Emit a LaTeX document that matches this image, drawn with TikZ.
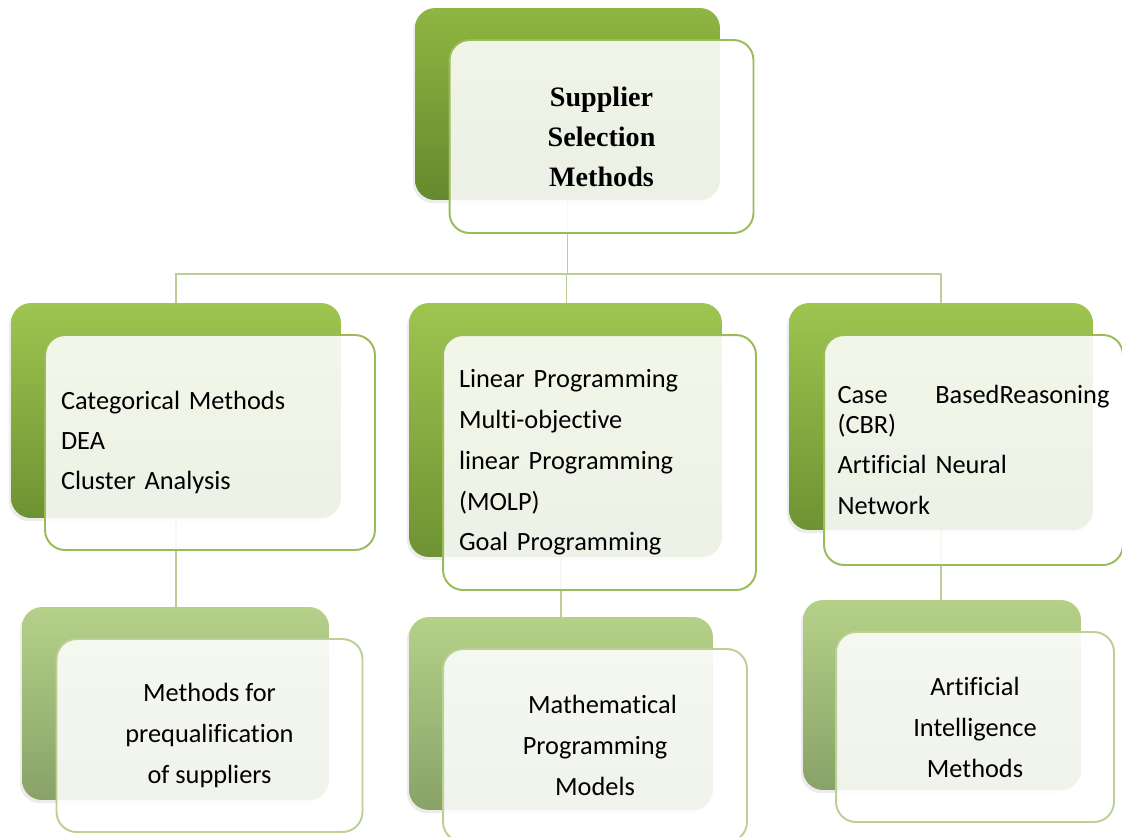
\documentclass[tikz,border=0pt]{standalone}
\usepackage{fontspec}
\setmainfont{Carlito}[Ligatures=NoCommon]
\newfontfamily\titlefont{Liberation Serif}
\usepackage{tikz}
\usetikzlibrary{shadows}
\definecolor{grnline}{RGB}{155,187,89}
\definecolor{grnpale}{RGB}{186,208,148}
\definecolor{grnlink}{RGB}{188,206,150}
\definecolor{topgtop}{RGB}{143,181,66}
\definecolor{topgbot}{RGB}{101,137,45}
\definecolor{midgtop}{RGB}{158,197,80}
\definecolor{midgbot}{RGB}{110,146,50}
\definecolor{lowgtop}{RGB}{181,209,136}
\definecolor{lowgbot}{RGB}{136,162,104}
\pgfdeclarelayer{background}
\pgfsetlayers{background,main}
\tikzset{
  backbox/.style={rectangle, rounded corners=0.4cm, draw=none,
    top color=midgtop, bottom color=midgbot,
    drop shadow={shadow xshift=-1.2pt, shadow yshift=-1.8pt, opacity=0.15}},
  topback/.style={backbox, top color=topgtop, bottom color=topgbot},
  lowback/.style={backbox, top color=lowgtop, bottom color=lowgbot},
  frontbox/.style={rectangle, rounded corners=0.4cm, draw=grnline,
    line width=1.1pt, fill=white, fill opacity=0.88, text opacity=1,
    inner sep=0pt, font=\fontsize{15}{23}\selectfont},
  lowfront/.style={frontbox, draw=grnpale, align=center},
  link/.style={draw=grnlink, line width=1pt}
}

\begin{document}
\begin{tikzpicture}[x=0.02cm, y=-0.02cm]
  \useasboundingbox (0,0) rectangle (1122,836);

  % --- TOP BLOCK ---
  \node[topback, minimum width=6.1cm, minimum height=3.84cm] (topb) at (567.5,104) {};
  \node[frontbox, minimum width=6.08cm, minimum height=3.86cm, align=center,
    font=\titlefont\bfseries\fontsize{16}{22.8}\selectfont] (topf) at (601.5,136.5)
    {Supplier\\Selection\\Methods};

  % --- MIDDLE ROW ---
  \node[backbox, minimum width=6.6cm, minimum height=4.3cm] (catb) at (176,410.5) {};
  \node[frontbox, minimum width=6.6cm, minimum height=4.3cm, text width=5.96cm,
    align=left] (catf) at (210,442.5)
    {Categorical Methods\\DEA\\Cluster Analysis};

  \node[backbox, minimum width=6.26cm, minimum height=5.08cm] (mathb) at (565.5,430) {};
  \node[frontbox, minimum width=6.26cm, minimum height=5.1cm, text width=5.62cm,
    align=left, font=\fontsize{15}{23.2}\selectfont] (mathf) at (599.5,462.5)
    {Linear Programming\\Multi-objective\\linear Programming\\(MOLP)\\Goal Programming};

  \node[backbox, minimum width=6.08cm, minimum height=4.54cm] (aib) at (941,416.5) {};
  \node[frontbox, minimum width=5.98cm, minimum height=4.6cm, text width=5.44cm,
    align=left, font=\fontsize{15}{17}\selectfont] (aif) at (973.5,450)
    {Case\hskip 0pt plus 1fill BasedReasoning\\(CBR)\\[6pt]Artificial Neural\\[6.5pt]Network};

  % --- BOTTOM ROW ---
  \node[lowback, minimum width=6.14cm, minimum height=3.86cm] (preb) at (175.5,703.5) {};
  \node[lowfront, minimum width=6.12cm, minimum height=3.86cm,
    font=\fontsize{15}{23.3}\selectfont] (pref) at (209.5,735.5)
    {Methods for\\prequalification\\of suppliers};

  \node[lowback, minimum width=6.08cm, minimum height=3.86cm] (progb) at (561,713.5) {};
  \node[lowfront, minimum width=6.08cm, minimum height=3.86cm,
    font=\fontsize{15}{23.3}\selectfont] (progf) at (595,745.5)
    {\hspace*{0.3cm}Mathematical\\Programming\\Models};

  \node[lowback, minimum width=5.56cm, minimum height=3.8cm] (aiintb) at (942,695) {};
  \node[lowfront, minimum width=5.56cm, minimum height=3.8cm,
    font=\fontsize{15}{23.3}\selectfont] (aiintf) at (975,727)
    {Artificial\\Intelligence\\Methods};

  % --- CONNECTORS ---
  \coordinate (hub) at (566.5,274);
  \begin{pgfonlayer}{background}
    \draw[link] (topb.south) -- (topb.south |- hub);
    \draw[link] (catb.north) |- (hub) -| (aib.north);
    \draw[link] (hub) -- (hub |- mathb.north);
    \draw[link] (catb.south) -- (catb.south |- preb.north);
    \draw[link] (progb.north) -- (progb.north |- mathb.south);
    \draw[link] (aib.south) -- (aib.south |- aiintb.north);
  \end{pgfonlayer}
\end{tikzpicture}
\end{document}
